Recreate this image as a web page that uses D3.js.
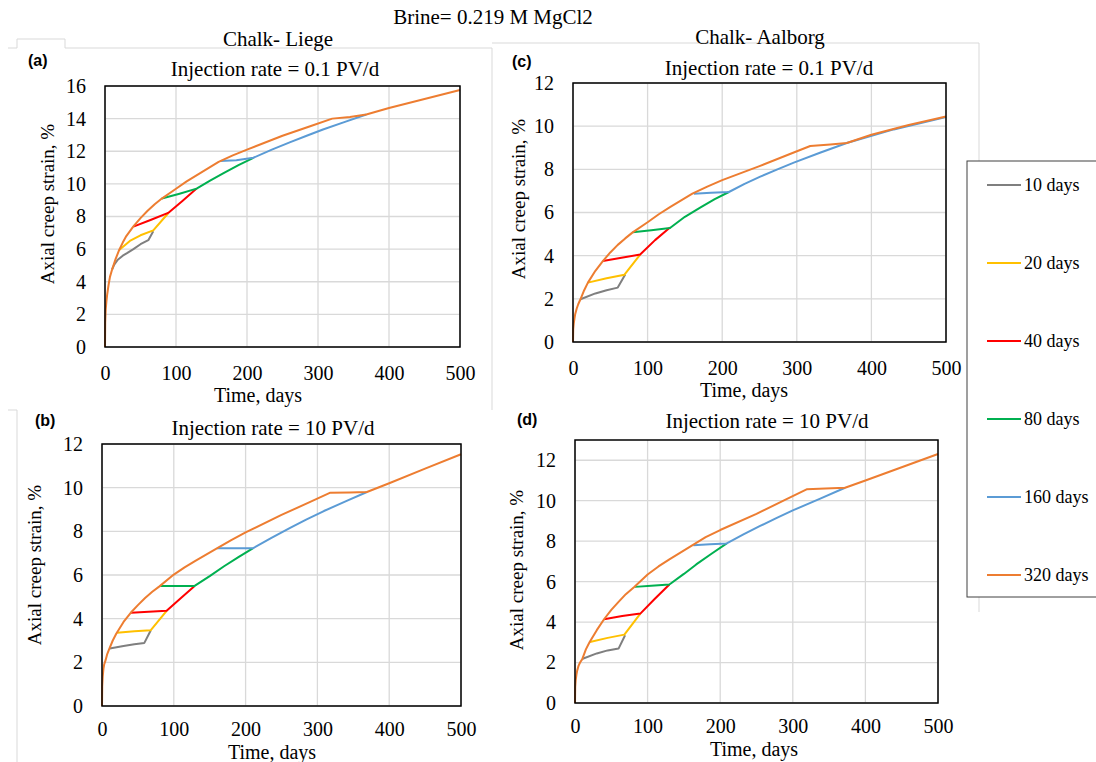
<!DOCTYPE html>
<html>
<head>
<meta charset="utf-8">
<script src="https://cdn.jsdelivr.net/npm/d3@7"></script>
<style>
body { margin: 0; background: #fff; }
text { font-family: "Liberation Serif", "Times New Roman", serif; fill: #000; }
.tag { font-family: "Liberation Sans", Arial, sans-serif; font-weight: bold; }
</style>
</head>
<body>
<div id="chart"></div>
<script>
// shared axis values
var timeTicks = [0, 100, 200, 300, 400, 500];
var strainTicks16 = [0, 2, 4, 6, 8, 10, 12, 14, 16];
var strainTicks12 = [0, 2, 4, 6, 8, 10, 12];

// legend entries, in drawing order (320 days on top)
var seriesNames = ["10 days", "20 days", "40 days", "80 days", "160 days", "320 days"];
var seriesColors = ["#7f7f7f", "#ffc000", "#ff0000", "#00b050", "#5b9bd5", "#ed7d31"];

// each panel: one [time, strain] list per series, same order as seriesNames.
// 10..160 days only keep the part that is not hidden under the 320 days curve.

// (a) Liege, 0.1 PV/d
var liege01 = [
  [[10, 4.75], [13, 5.05], [18, 5.35], [25, 5.6], [31, 5.75], [40, 6.0], [50, 6.3], [61, 6.55], [68, 7.1]],
  [[20, 5.95], [35, 6.5], [50, 6.85], [68, 7.15], [89, 8.2]],
  [[40, 7.38], [65, 7.8], [89, 8.22], [109, 8.95], [129, 9.71]],
  [[80, 9.1], [105, 9.4], [129, 9.71], [148, 10.2], [167, 10.66], [188, 11.15], [209, 11.6]],
  [[162, 11.4], [185, 11.45], [209, 11.6], [235, 12.1], [261, 12.56], [284, 12.95], [307, 13.33], [338, 13.8], [368, 14.25]],
  [[0, 0], [0.3, 1.5], [1, 2.3], [2, 2.8], [3, 3.2], [5, 3.8], [7, 4.3], [10, 4.75], [15, 5.4], [20, 5.95], [25, 6.4],
   [30, 6.8], [40, 7.4], [50, 7.9], [60, 8.35], [70, 8.75], [80, 9.1], [100, 9.7], [115, 10.15], [130, 10.55],
   [160, 11.35], [180, 11.75], [200, 12.1], [250, 12.95], [290, 13.55], [320, 14.0], [345, 14.1], [368, 14.25],
   [400, 14.65], [450, 15.2], [500, 15.75]]
];

// (b) Liege, 10 PV/d
var liege10 = [
  [[10.7, 2.63], [30, 2.75], [45, 2.83], [59, 2.89], [68, 3.47]],
  [[21, 3.35], [45, 3.42], [68, 3.47], [90, 4.36]],
  [[40.4, 4.27], [65, 4.32], [90, 4.36], [110, 4.95], [129, 5.5]],
  [[81, 5.5], [105, 5.5], [129, 5.5], [150, 5.95], [170, 6.4], [190, 6.82], [210, 7.22]],
  [[160, 7.22], [185, 7.22], [210, 7.22], [236, 7.7], [262, 8.16], [285, 8.55], [309, 8.93], [340, 9.38], [369, 9.8]],
  [[0, 0], [0.3, 0.9], [1, 1.35], [2, 1.7], [3, 1.9], [5, 2.1], [7, 2.35], [10, 2.6], [15, 3.0], [20, 3.32], [30, 3.85],
   [40, 4.27], [50, 4.62], [60, 4.95], [70, 5.23], [80, 5.48], [100, 6.02], [115, 6.35], [130, 6.65], [160, 7.22],
   [180, 7.6], [200, 7.95], [250, 8.75], [290, 9.35], [318, 9.77], [345, 9.78], [369, 9.8], [400, 10.2],
   [450, 10.87], [500, 11.53]]
];

// (c) Aalborg, 0.1 PV/d
var aalborg01 = [
  [[10, 1.98], [30, 2.25], [45, 2.4], [60, 2.52], [70, 3.13]],
  [[20, 2.75], [45, 2.95], [69, 3.12], [90, 4.05]],
  [[40, 3.75], [65, 3.9], [90, 4.05], [110, 4.72], [130, 5.3]],
  [[80, 5.08], [105, 5.18], [130, 5.28], [150, 5.8], [171, 6.24], [190, 6.62], [209, 6.95]],
  [[162, 6.87], [185, 6.92], [209, 6.95], [230, 7.33], [251, 7.66], [274, 8.0], [296, 8.31], [331, 8.77], [367, 9.22],
   [430, 9.85], [500, 10.42]],
  [[0, 0], [0.3, 0.6], [1, 0.85], [2, 1.1], [3, 1.3], [5, 1.55], [7, 1.75], [10, 1.98], [15, 2.4], [20, 2.75], [30, 3.3],
   [40, 3.75], [50, 4.15], [60, 4.5], [70, 4.8], [80, 5.08], [100, 5.55], [115, 5.92], [130, 6.25], [160, 6.87],
   [180, 7.2], [200, 7.5], [250, 8.15], [290, 8.7], [318, 9.08], [345, 9.15], [367, 9.22], [400, 9.6],
   [450, 10.05], [500, 10.45]]
];

// (d) Aalborg, 10 PV/d
var aalborg10 = [
  [[10.6, 2.19], [30, 2.45], [45, 2.6], [60, 2.69], [69, 3.35]],
  [[20.6, 3.02], [45, 3.22], [68, 3.38], [90, 4.42]],
  [[40, 4.14], [65, 4.3], [90, 4.42], [110, 5.15], [130, 5.86]],
  [[82.6, 5.74], [105, 5.8], [130, 5.86], [150, 6.38], [167, 6.85], [188, 7.38], [209, 7.89]],
  [[163, 7.8], [186, 7.85], [209, 7.89], [232, 8.33], [255, 8.75], [278, 9.15], [300, 9.52], [337, 10.09], [372, 10.64]],
  [[0, 0], [0.3, 0.8], [1, 1.15], [2, 1.4], [3, 1.6], [5, 1.85], [7, 2.0], [10, 2.17], [15, 2.65], [20, 3.0], [30, 3.6],
   [40, 4.14], [50, 4.6], [60, 5.0], [70, 5.38], [82, 5.75], [100, 6.35], [115, 6.75], [130, 7.1], [162, 7.8],
   [180, 8.2], [200, 8.55], [250, 9.35], [290, 10.05], [319, 10.56], [345, 10.6], [372, 10.64], [400, 11.0],
   [450, 11.65], [500, 12.31]]
];

var W = 1096, H = 762;
var serif = '"Liberation Serif", "Times New Roman", serif';

var svg = d3.select("#chart").append("svg")
    .attr("width", W)
    .attr("height", H)
    .style("display", "block");

svg.append("rect").attr("width", W).attr("height", H).attr("fill", "#fff");

// faint chart-area borders left over from the spreadsheet
var frame = "#d9d9d9";
svg.append("path")
    .attr("d", "M8,48H17V39H65V48H492V410")
    .attr("fill", "none").attr("stroke", frame);
svg.append("path")
    .attr("d", "M492,43H979V612")
    .attr("fill", "none").attr("stroke", frame);
svg.append("path")
    .attr("d", "M8,410H17V762")
    .attr("fill", "none").attr("stroke", frame);

// page titles
svg.append("text").attr("x", 493).attr("y", 24).attr("text-anchor", "middle")
    .style("font-family", serif).style("font-size", "21px").text("Brine= 0.219 M MgCl2");
svg.append("text").attr("x", 278).attr("y", 46).attr("text-anchor", "middle")
    .style("font-family", serif).style("font-size", "21px").text("Chalk- Liege");
svg.append("text").attr("x", 760).attr("y", 44).attr("text-anchor", "middle")
    .style("font-family", serif).style("font-size", "21px").text("Chalk- Aalborg");

var panels = [
  {tag: "(a)", tagX: 28, tagY: 66, title: "Injection rate = 0.1 PV/d", titleX: 275, titleY: 76,
   left: 105, right: 460, top: 86, bottom: 347, yMax: 16, yTicks: strainTicks16, data: liege01,
   xPad: 19, yLabelX: 54, yLabelY: 204, xLabelX: 258, xLabelY: 402},
  {tag: "(c)", tagX: 512, tagY: 67, title: "Injection rate = 0.1 PV/d", titleX: 769, titleY: 75,
   left: 573, right: 946, top: 83, bottom: 342, yMax: 12, yTicks: strainTicks12, data: aalborg01,
   xPad: 19, yLabelX: 525, yLabelY: 199, xLabelX: 744, xLabelY: 397},
  {tag: "(b)", tagX: 35, tagY: 426, title: "Injection rate = 10 PV/d", titleX: 273, titleY: 435,
   left: 102, right: 461, top: 444, bottom: 706, yMax: 12, yTicks: strainTicks12, data: liege10,
   xPad: 16, yLabelX: 41, yLabelY: 565, xLabelX: 272, xLabelY: 759},
  {tag: "(d)", tagX: 517, tagY: 425, title: "Injection rate = 10 PV/d", titleX: 767, titleY: 428,
   left: 575, right: 938, top: 440, bottom: 703, yMax: 13, yTicks: strainTicks12, data: aalborg10,
   xPad: 16, yLabelX: 523, yLabelY: 570, xLabelX: 754, xLabelY: 756}
];

panels.forEach(drawPanel);

function drawPanel(p) {
    var x = d3.scaleLinear().domain([0, 500]).range([p.left, p.right]);
    var y = d3.scaleLinear().domain([0, p.yMax]).range([p.bottom, p.top]);
    var g = svg.append("g");

    // grid
    g.selectAll(".vgrid").data(timeTicks).enter().append("line")
        .attr("x1", function(d) { return x(d); })
        .attr("x2", function(d) { return x(d); })
        .attr("y1", p.top).attr("y2", p.bottom)
        .attr("stroke", "#d9d9d9").attr("stroke-width", 1.3);
    g.selectAll(".hgrid").data(p.yTicks).enter().append("line")
        .attr("x1", p.left).attr("x2", p.right)
        .attr("y1", function(d) { return y(d); })
        .attr("y2", function(d) { return y(d); })
        .attr("stroke", "#d9d9d9").attr("stroke-width", 1.3);

    // axes (labels only, the box is drawn below)
    var xAxis = g.append("g")
        .attr("transform", "translate(0," + p.bottom + ")")
        .call(d3.axisBottom(x).tickValues(timeTicks).tickSize(0).tickPadding(p.xPad));
    var yAxis = g.append("g")
        .attr("transform", "translate(" + p.left + ",0)")
        .call(d3.axisLeft(y).tickValues(p.yTicks).tickSize(0).tickPadding(19));
    [xAxis, yAxis].forEach(function(a) {
        a.select(".domain").remove();
        a.attr("font-size", 20).attr("font-family", null);
        a.selectAll("text").style("font-family", serif).style("font-size", "20px");
    });

    // series
    var line = d3.line()
        .x(function(d) { return x(d[0]); })
        .y(function(d) { return y(d[1]); });
    p.data.forEach(function(s, i) {
        g.append("path")
            .attr("d", line(s))
            .attr("fill", "none")
            .attr("stroke", seriesColors[i])
            .attr("stroke-width", 2)
            .attr("stroke-linejoin", "round");
    });

    // plot box
    g.append("rect")
        .attr("x", p.left).attr("y", p.top)
        .attr("width", p.right - p.left).attr("height", p.bottom - p.top)
        .attr("fill", "none").attr("stroke", "#000").attr("stroke-width", 1.5);

    // labels
    g.append("text").attr("class", "tag")
        .attr("x", p.tagX).attr("y", p.tagY)
        .style("font-size", "16px").text(p.tag);
    g.append("text")
        .attr("x", p.titleX).attr("y", p.titleY)
        .attr("text-anchor", "middle")
        .style("font-family", serif).style("font-size", "21px").text(p.title);
    g.append("text")
        .attr("transform", "translate(" + p.yLabelX + "," + p.yLabelY + ") rotate(-90)")
        .attr("text-anchor", "middle")
        .style("font-family", serif).style("font-size", "19px").text("Axial creep strain, %");
    g.append("text")
        .attr("x", p.xLabelX).attr("y", p.xLabelY)
        .attr("text-anchor", "middle")
        .style("font-family", serif).style("font-size", "20px").text("Time, days");
}

// legend
var legend = svg.append("g");
legend.append("rect")
    .attr("x", 967).attr("y", 161)
    .attr("width", 140).attr("height", 436)
    .attr("fill", "#fff").attr("stroke", "#404040").attr("stroke-width", 1);

var ly = d3.scalePoint().domain(seriesNames).range([185, 575]);
var items = legend.selectAll(".item").data(seriesNames).enter().append("g")
    .attr("transform", function(d) { return "translate(0," + ly(d) + ")"; });
items.append("line")
    .attr("x1", 987).attr("x2", 1021)
    .attr("stroke", function(d, i) { return seriesColors[i]; })
    .attr("stroke-width", 2);
items.append("text")
    .attr("x", 1024).attr("y", 6)
    .style("font-family", serif).style("font-size", "18px")
    .text(function(d) { return d; });
</script>
</body>
</html>
